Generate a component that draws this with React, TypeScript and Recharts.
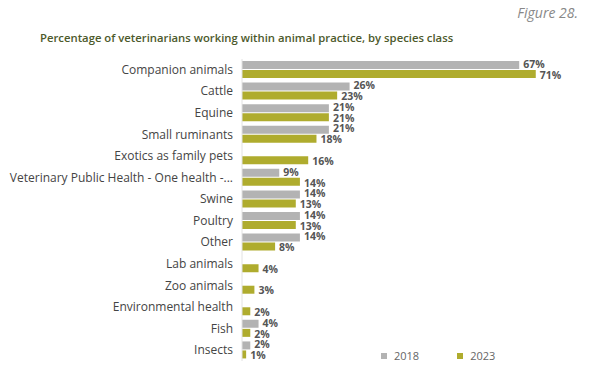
import { BarChart, Bar, XAxis, YAxis, Legend, LabelList } from 'recharts';

const species = [
  'Companion animals',
  'Cattle',
  'Equine',
  'Small ruminants',
  'Exotics as family pets',
  'Veterinary Public Health - One health -...',
  'Swine',
  'Poultry',
  'Other',
  'Lab animals',
  'Zoo animals',
  'Environmental health',
  'Fish',
  'Insects',
];

const values2018 = [67, 26, 21, 21, null, 9, 14, 14, 14, null, null, null, 4, 2];
const values2023 = [71, 23, 21, 18, 16, 14, 13, 13, 8, 4, 3, 2, 2, 1];

const data = species.map((name, i) => ({
  name,
  y2018: values2018[i],
  y2023: values2023[i],
}));

const GRAY = '#b3b3b3';
const OLIVE = '#afac2e';
const FONT = '"Open Sans", sans-serif';

const pct = (v: any) => (v == null ? '' : `${v}%`);

// single-line tick so the long label doesn't wrap
const SpeciesTick = ({ x, y, payload }: any) => (
  <text x={x} y={y} dy={4} textAnchor="end" fill="#444" fontSize={12} fontFamily={FONT}>
    {payload.value}
  </text>
);

const LegendContent = () => (
  <div style={{ display: 'flex', gap: 38, fontFamily: FONT, fontSize: 11, color: '#666' }}>
    {[
      { label: '2018', color: GRAY },
      { label: '2023', color: OLIVE },
    ].map((item) => (
      <span key={item.label} style={{ display: 'flex', alignItems: 'center', gap: 7 }}>
        <span style={{ width: 6, height: 6, background: item.color, display: 'inline-block' }} />
        {item.label}
      </span>
    ))}
  </div>
);

export default function App() {
  return (
    <div style={{ position: 'absolute', left: 0, top: 0, width: 600, height: 375, background: '#fff', fontFamily: FONT }}>
      <div style={{ position: 'absolute', right: 22, top: 3, fontSize: 14, fontStyle: 'italic', color: '#888' }}>
        Figure 28.
      </div>
      <div style={{ position: 'absolute', left: 40, top: 30, fontSize: 11.3, fontWeight: 600, color: '#4d5a2c' }}>
        Percentage of veterinarians working within animal practice, by species class
      </div>
      <BarChart
        width={600}
        height={375}
        data={data}
        layout="vertical"
        margin={{ top: 59, right: 27, left: 0, bottom: 14 }}
        barSize={8}
        barGap={1}
      >
        <XAxis type="number" domain={[0, 80]} hide />
        <YAxis
          type="category"
          dataKey="name"
          width={242}
          interval={0}
          tickLine={false}
          tickSize={0}
          tickMargin={9}
          axisLine={{ stroke: '#e2e2e2' }}
          tick={<SpeciesTick />}
        />
        <Legend
          content={<LegendContent />}
          layout="horizontal"
          verticalAlign="middle"
          align="center"
          wrapperStyle={{ position: 'absolute', left: 381, top: 348, width: 'auto' }}
        />
        <Bar dataKey="y2018" fill={GRAY} isAnimationActive={false}>
          <LabelList
            dataKey="y2018"
            position="right"
            offset={4}
            formatter={pct}
            style={{ fill: '#555', fontSize: 10.5, fontWeight: 700, fontFamily: FONT }}
            dy={-1}
          />
        </Bar>
        <Bar dataKey="y2023" fill={OLIVE} isAnimationActive={false}>
          <LabelList
            dataKey="y2023"
            position="right"
            offset={4}
            formatter={pct}
            style={{ fill: '#555', fontSize: 10.5, fontWeight: 700, fontFamily: FONT }}
            dy={1}
          />
        </Bar>
      </BarChart>
    </div>
  );
}
